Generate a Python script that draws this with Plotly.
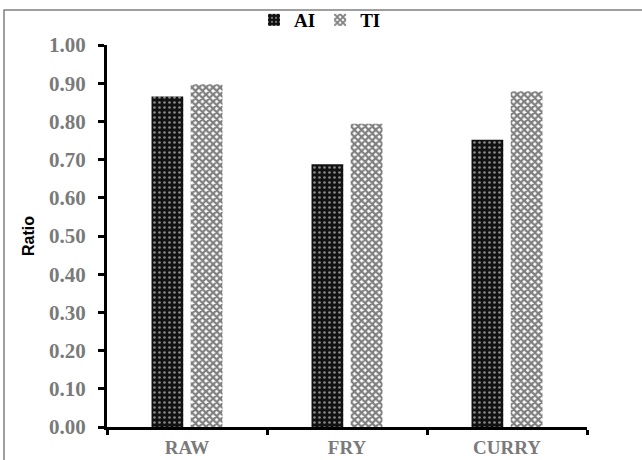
import plotly.graph_objects as go

categories = ["RAW", "FRY", "CURRY"]
ai_values = [0.865, 0.688, 0.752]
ti_values = [0.897, 0.794, 0.879]
y_ticks = [0.0, 0.1, 0.2, 0.3, 0.4, 0.5, 0.6, 0.7, 0.8, 0.9, 1.0]
y_ticklabels = ["%.2f" % v for v in y_ticks]

fig = go.Figure()
fig.add_trace(go.Bar(
    x=categories, y=ai_values, name="AI",
    marker=dict(color="black", line=dict(width=0),
                pattern=dict(shape=".", fgcolor="white", bgcolor="#111111",
                             size=5, solidity=0.22, fillmode="overlay")),
))
fig.add_trace(go.Bar(
    x=categories, y=ti_values, name="TI",
    marker=dict(color="white", line=dict(width=0),
                pattern=dict(shape="x", fgcolor="#000000", bgcolor="white",
                             size=5, solidity=0.7, fillmode="overlay")),
))

fig.update_layout(
    width=642, height=460,
    margin=dict(l=107, r=55, t=45, b=33, autoexpand=False),
    paper_bgcolor="white", plot_bgcolor="white",
    barmode="group", bargap=0.51, bargroupgap=0.19,
    showlegend=True,
    legend=dict(orientation="h", xref="container", yref="container",
                x=320 / 642, xanchor="center", y=1 - 20 / 460, yanchor="middle",
                font=dict(family="Liberation Serif", size=19, color="black", weight="bold"),
                itemwidth=30, tracegroupgap=0, bgcolor="rgba(0,0,0,0)"),
    font=dict(family="Liberation Serif"),
    shapes=[dict(type="rect", xref="paper", yref="paper",
                 x0=(4 - 107) / 480, x1=(660 - 107) / 480,
                 y0=(427 - 480) / 382, y1=(427 - 10) / 382,
                 line=dict(color="#808080", width=1.5), layer="below")],
)
fig.update_xaxes(
    showline=True, linecolor="black", linewidth=3,
    ticks="outside", tickson="boundaries", ticklen=5, tickwidth=3, tickcolor="black",
    showgrid=False, ticklabelstandoff=1,
    tickfont=dict(family="Liberation Serif", size=19, color="#7a7a7a", weight="bold"),
)
fig.update_yaxes(
    range=[0, 1.0], tickvals=y_ticks, ticktext=y_ticklabels,
    showline=True, linecolor="black", linewidth=3,
    ticks="outside", ticklen=6, tickwidth=3, tickcolor="black",
    showgrid=False, zeroline=False, ticklabelstandoff=8,
    tickfont=dict(family="Liberation Serif", size=21, color="#7a7a7a", weight="bold"),
    title=dict(text="Ratio", font=dict(family="Liberation Sans", size=16, color="black", weight="bold"),
               standoff=11),
)
fig.write_html("out.html")
